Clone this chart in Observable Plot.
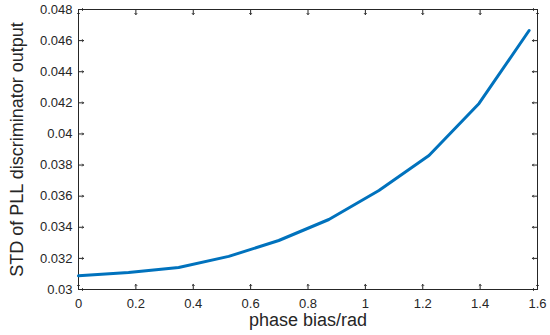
<!DOCTYPE html>
<html>
<head>
<meta charset="utf-8">
<script src="https://cdn.jsdelivr.net/npm/d3@7"></script>
<script src="https://cdn.jsdelivr.net/npm/@observablehq/plot@0.6"></script>
<style>
  html, body { margin: 0; padding: 0; background: #fff; }
  #chart svg { display: block; }
</style>
</head>
<body>
<div id="chart"></div>
<script>
const phaseBias = [0, 0.1745, 0.3491, 0.5236, 0.6981, 0.8727, 1.0472, 1.2217, 1.3963, 1.5708];
const stdOutput = [0.03088, 0.0311, 0.03142, 0.03213, 0.03315, 0.0345, 0.03636, 0.03861, 0.04196, 0.04665];
const xTicks = [0, 0.2, 0.4, 0.6, 0.8, 1, 1.2, 1.4, 1.6];
const yTicks = [0.03, 0.032, 0.034, 0.036, 0.038, 0.04, 0.042, 0.044, 0.046, 0.048];
const xLabel = "phase bias/rad";
const yLabel = "STD of PLL discriminator output";

const data = phaseBias.map((x, i) => ({x, y: stdOutput[i]}));
const axisColor = "#262626";
const fmt = d => String(+d.toFixed(3));

const chart = Plot.plot({
  width: 550,
  height: 335,
  marginLeft: 78,
  marginRight: 13,
  marginTop: 9,
  marginBottom: 46,
  style: {fontFamily: "'Liberation Sans', Arial, sans-serif", color: axisColor, background: "#fff"},
  x: {domain: [0, 1.6]},
  y: {domain: [0.03, 0.048]},
  marks: [
    Plot.axisX(xTicks, {anchor: "bottom", tickSize: 0, tickPadding: 9, tickFormat: fmt, fontSize: 13, label: null, fill: axisColor}),
    Plot.axisY(yTicks, {anchor: "left", tickSize: 0, tickPadding: 6, tickFormat: fmt, fontSize: 13, label: null, fill: axisColor}),
    Plot.vector(xTicks, {x: d => d, y: 0.03, length: 5, rotate: 0, anchor: "start", stroke: axisColor, strokeWidth: 1}),
    Plot.vector(xTicks, {x: d => d, y: 0.048, length: 5, rotate: 180, anchor: "start", stroke: axisColor, strokeWidth: 1}),
    Plot.vector(yTicks, {x: 0, y: d => d, length: 5, rotate: 90, anchor: "start", stroke: axisColor, strokeWidth: 1}),
    Plot.vector(yTicks, {x: 1.6, y: d => d, length: 5, rotate: 270, anchor: "start", stroke: axisColor, strokeWidth: 1}),
    Plot.frame({stroke: axisColor, strokeWidth: 1}),
    Plot.line(data, {x: "x", y: "y", stroke: "#0072BD", strokeWidth: 3, strokeLinejoin: "round"}),
    Plot.text([xLabel], {frameAnchor: "bottom", textAnchor: "middle", dy: 36, fontSize: 18, fill: axisColor}),
    Plot.text([yLabel], {frameAnchor: "left", textAnchor: "middle", rotate: -90, dx: -61, fontSize: 18, fill: axisColor})
  ]
});
document.getElementById("chart").append(chart);
</script>
</body>
</html>
